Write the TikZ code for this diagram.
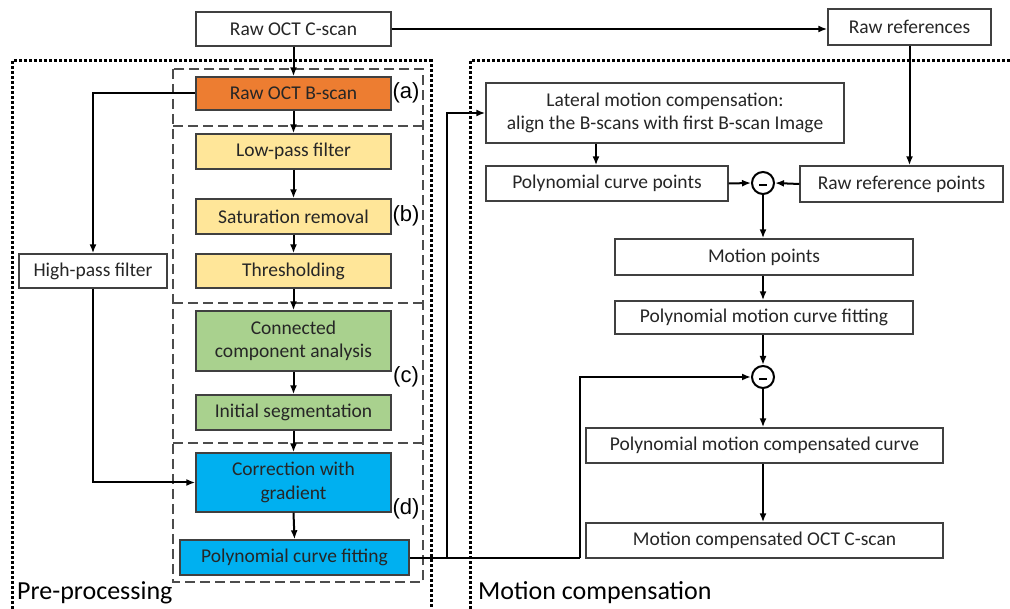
\documentclass[tikz,border=0pt]{standalone}
\usepackage{fontspec}
\setmainfont{Carlito}
\newfontfamily\lblfont{Liberation Sans}
\usetikzlibrary{arrows.meta}
\definecolor{corange}{HTML}{ED7D31}
\definecolor{cyellow}{HTML}{FFE699}
\definecolor{cgreen}{HTML}{A9D18E}
\definecolor{cblue}{HTML}{00B0F0}
\definecolor{cborder}{HTML}{404040}
\begin{document}
\begin{tikzpicture}[x=1pt,y=-1pt,
  box/.style={draw=cborder, line width=1.4pt, inner sep=0pt, align=center,
    font=\fontsize{19.5}{23.5}\selectfont, text=black!85},
  arr/.style={line width=2pt, -{Latex[length=9pt,width=7pt]}},
  ln/.style={line width=2pt},
  dotbox/.style={line width=3pt, dash pattern=on 3pt off 2pt},
  dashbox/.style={line width=1.4pt, draw=black!70, dash pattern=on 10pt off 5pt},
  lbl/.style={font=\lblfont\fontsize{22}{25}\selectfont},
  sec/.style={font=\fontsize{26}{30}\selectfont, anchor=west, inner sep=0pt},
  minus/.style={draw, circle, line width=2pt, minimum size=22pt, inner sep=0pt},
  bar/.style={line width=2.5pt}
]
\useasboundingbox (0,0) rectangle (1010,609);
% section frames
\draw[dotbox] (12,609) -- (12,61) -- (431,61) -- (431,609);
\draw[dotbox] (470,609) -- (470,61) -- (1010,61);
% dashed sub-frames
\draw[dashbox] (173,69) rectangle (423,582);
\draw[dashbox] (173,126) -- (423,126);
\draw[dashbox] (173,303) -- (423,303);
\draw[dashbox] (173,443) -- (423,443);
% nodes left
\node[box, minimum width=195pt, minimum height=34pt, fill=white] (cscan) at (293.5,29) {Raw OCT C-scan};
\node[box, minimum width=195pt, minimum height=33pt, fill=corange] (bscan) at (293.5,93.5) {Raw OCT B-scan};
\node[box, minimum width=195pt, minimum height=35pt, fill=cyellow] (lowpass) at (293.5,151.5) {Low-pass filter};
\node[box, minimum width=195pt, minimum height=35pt, fill=cyellow] (satur) at (293.5,216.5) {Saturation removal};
\node[box, minimum width=195pt, minimum height=34pt, fill=cyellow] (thresh) at (293.5,271) {Thresholding};
\node[box, minimum width=148pt, minimum height=34pt, fill=white] (highpass) at (93,271) {High-pass filter};
\node[box, minimum width=195pt, minimum height=60pt, fill=cgreen] (cca) at (293.5,341) {Connected\\component analysis};
\node[box, minimum width=195pt, minimum height=35pt, fill=cgreen] (initseg) at (293.5,412.5) {Initial segmentation};
\node[box, minimum width=195pt, minimum height=59pt, fill=cblue] (corr) at (293.5,482.5) {Correction with\\gradient};
\node[box, minimum width=229pt, minimum height=35pt, fill=cblue] (polyfit) at (294.5,557.5) {Polynomial curve fitting};
% labels
\node[lbl] (la) at (406,93) {(a)};
\node[lbl] (lb) at (406,216) {(b)};
\node[lbl] (lc) at (406,377) {(c)};
\node[lbl] (ld) at (406,509) {(d)};
\node[sec] (pre) at (17,593) {Pre-processing};
\node[sec] (mot) at (478,593) {Motion compensation};
% nodes right
\node[box, minimum width=163pt, minimum height=36pt, fill=white] (rawref) at (909.5,27) {Raw references};
\node[box, minimum width=358pt, minimum height=60pt, fill=white] (lateral) at (665,113) {Lateral motion compensation:\\align the B-scans with first B-scan Image};
\node[box, minimum width=242pt, minimum height=35pt, fill=white] (pcp) at (607,183.5) {Polynomial curve points};
\node[box, minimum width=203pt, minimum height=36pt, fill=white] (rrp) at (901.5,184) {Raw reference points};
\node[minus] (c1) at (763,183) {};
\draw[bar] ([xshift=-4pt,yshift=-2pt]c1.center) -- ([xshift=4pt,yshift=-2pt]c1.center);
\node[box, minimum width=298pt, minimum height=36pt, fill=white] (motion) at (764,257) {Motion points};
\node[box, minimum width=298pt, minimum height=33pt, fill=white] (pmcf) at (764,317.5) {Polynomial motion curve fitting};
\node[minus] (c2) at (763,377) {};
\draw[bar] ([xshift=-4pt,yshift=-2pt]c2.center) -- ([xshift=4pt,yshift=-2pt]c2.center);
\node[box, minimum width=357pt, minimum height=35pt, fill=white] (pmcc) at (764.5,445.5) {Polynomial motion compensated curve};
\node[box, minimum width=357pt, minimum height=35pt, fill=white] (mcoct) at (764.5,540.5) {Motion compensated OCT C-scan};
% junction coordinates
\coordinate (j1) at (447,557.5);
\coordinate (j2) at (580,557.5);
% connectors
\draw[arr] (cscan.south) -- (bscan.north);
\draw[arr] (bscan.south) -- (lowpass.north);
\draw[arr] (lowpass.south) -- (satur.north);
\draw[arr] (satur.south) -- (thresh.north);
\draw[arr] (thresh.south) -- (cca.north);
\draw[arr] (cca.south) -- (initseg.north);
\draw[arr] (initseg.south) -- (corr.north);
\draw[arr] (corr.south) -- (polyfit.north);
\draw[arr] (bscan.west) -| (highpass.north);
\draw[arr] (highpass.south) |- (corr.west);
\draw[arr] (cscan.east) -- (rawref.west |- cscan.east);
\draw[arr] (rawref.south) -- (rawref.south |- rrp.north);
\draw[ln] (polyfit.east) -- (j2);
\draw[arr] (j1) |- (lateral.west);
\draw[arr] (j2) |- (c2.west);
\draw[arr] (596,0 |- lateral.south) -- (596,0 |- pcp.north);
\draw[arr] (pcp.east) -- (c1.west);
\draw[arr] (rrp.west) -- (c1.east);
\draw[arr] (c1.south) -- (c1.south |- motion.north);
\draw[arr] (c1.south |- motion.south) -- (c1.south |- pmcf.north);
\draw[arr] (c2.north |- pmcf.south) -- (c2.north);
\draw[arr] (c2.south) -- (c2.south |- pmcc.north);
\draw[arr] (c2.south |- pmcc.south) -- (c2.south |- mcoct.north);
\end{tikzpicture}
\end{document}
